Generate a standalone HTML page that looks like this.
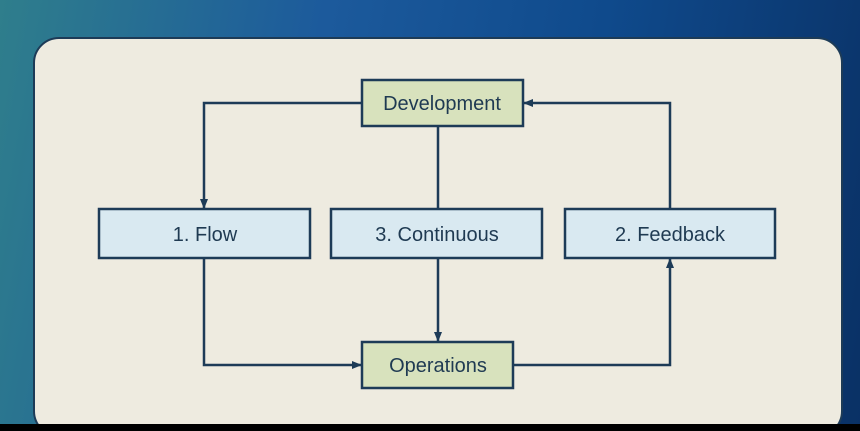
<!DOCTYPE html>
<html><head><style>
html,body{margin:0;width:860px;height:431px;overflow:hidden}
body{background:linear-gradient(100deg,#2f7e8c 0%,#1c5a9c 35%,#0f4a8c 65%,#0a3165 100%);font-family:"Liberation Sans",sans-serif;position:relative}
.bar{position:absolute;left:0;top:424px;width:860px;height:7px;background:#000}
.card{position:absolute;left:33px;top:37px;width:810px;height:400px;background:#eeebe0;border:2px solid #1d3b57;border-radius:26px;box-sizing:border-box}
</style></head><body>
<div class="card"></div>
<svg style="position:absolute;left:0;top:0" width="860" height="431">
<defs><marker id="a" markerWidth="10" markerHeight="10" refX="9" refY="5" orient="auto" markerUnits="userSpaceOnUse"><path d="M0,1 L10,5 L0,9z" fill="#1d3b57"/></marker></defs>
<g stroke="#1d3b57" stroke-width="2.5" fill="none">
<polyline points="362,103 204,103 204,208" marker-end="url(#a)"/>
<polyline points="670,209 670,103 524,103" marker-end="url(#a)"/>
<line x1="438" y1="126" x2="438" y2="209"/>
<line x1="438" y1="258" x2="438" y2="341" marker-end="url(#a)"/>
<polyline points="204,258 204,365 361,365" marker-end="url(#a)"/>
<polyline points="513,365 670,365 670,259" marker-end="url(#a)"/>
</g>
<g stroke="#1d3b57" stroke-width="2.5" font-size="20" text-anchor="middle" font-family="Liberation Sans, sans-serif">
<rect x="362" y="80" width="161" height="46" fill="#d8e2bd"/>
<rect x="99" y="209" width="211" height="49" fill="#d9e9f1"/>
<rect x="331" y="209" width="211" height="49" fill="#d9e9f1"/>
<rect x="565" y="209" width="210" height="49" fill="#d9e9f1"/>
<rect x="362" y="342" width="151" height="46" fill="#d8e2bd"/>
<g fill="#1f3a52" stroke="none">
<text x="442" y="110">Development</text>
<text x="205" y="241">1. Flow</text>
<text x="437" y="241">3. Continuous</text>
<text x="670" y="241">2. Feedback</text>
<text x="438" y="372">Operations</text>
</g></g>
</svg>
<div class="bar"></div>
</body></html>
